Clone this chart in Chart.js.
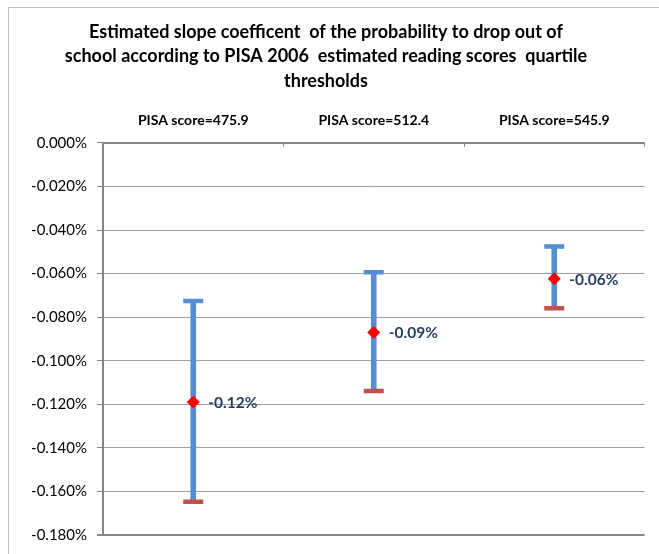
<!DOCTYPE html>
<html>
<head>
<meta charset="utf-8">
<script src="https://cdn.jsdelivr.net/npm/chart.js@4/dist/chart.umd.min.js"></script>
<style>
  html, body { margin: 0; padding: 0; background: #fff; overflow: hidden; width: 659px; height: 554px; }
  #frame { position: absolute; left: 8px; top: 7px; width: 700px; height: 600px; border: 1px solid #bfbfbf; box-sizing: border-box; }
  #c { position: absolute; left: 0; top: 0; }
</style>
</head>
<body>
<div id="frame"></div>
<canvas id="c" width="659" height="554"></canvas>
<script>
// ---- data (in percent units) ----
const titleLines = [
  'Estimated slope coefficent  of the probability to drop out of',
  'school according to PISA 2006  estimated reading scores  quartile',
  'thresholds'
];
const categories = ['PISA score=475.9', 'PISA score=512.4', 'PISA score=545.9'];
const estimates = [-0.119, -0.087, -0.0624];
const upperBounds = [-0.0726, -0.0594, -0.0476];
const lowerBounds = [-0.1647, -0.1139, -0.0759];
const valueLabels = ['-0.12%', '-0.09%', '-0.06%'];
const yMin = -0.18, yMax = 0, yStep = 0.02;

const FONT = 'Lato, "Open Sans", sans-serif';
const AXIS = '#868686';
const GRID = '#a0a0a0';
const BLUE = '#558ED5';
const RED = '#C0504D';

const valueLabelPlugin = {
  id: 'valueLabels',
  afterDatasetsDraw(chart) {
    const meta = chart.getDatasetMeta(0);
    const ctx = chart.ctx;
    ctx.save();
    ctx.font = 'bold 15.5px ' + FONT;
    ctx.fillStyle = '#243F60';
    ctx.textAlign = 'left';
    ctx.textBaseline = 'middle';
    meta.data.forEach((pt, i) => {
      ctx.fillText(valueLabels[i], pt.x + 15, pt.y + 1);
    });
    ctx.restore();
  }
};

new Chart(document.getElementById('c'), {
  type: 'bar',
  data: {
    labels: categories,
    datasets: [
      {
        type: 'line',
        label: 'Estimate',
        data: estimates,
        showLine: false,
        pointStyle: 'rectRot',
        pointRadius: 6.5,
        backgroundColor: '#FF0000',
        borderColor: '#FF0000',
        borderWidth: 0,
        order: 0
      },
      {
        type: 'line',
        label: 'Upper',
        data: upperBounds,
        showLine: false,
        pointStyle: 'line',
        pointRadius: 10,
        borderColor: BLUE,
        borderWidth: 4.5,
        order: 1
      },
      {
        type: 'line',
        label: 'Lower',
        data: lowerBounds,
        showLine: false,
        pointStyle: 'line',
        pointRadius: 10,
        borderColor: RED,
        borderWidth: 4.5,
        order: 1
      },
      {
        type: 'bar',
        label: 'Range',
        data: categories.map((_, i) => [lowerBounds[i], upperBounds[i]]),
        backgroundColor: BLUE,
        borderWidth: 0,
        barThickness: 5,
        order: 2
      }
    ]
  },
  options: {
    responsive: false,
    devicePixelRatio: 1,
    animation: false,
    layout: { padding: { left: 0, right: 7, top: 0, bottom: 17 } },
    plugins: {
      legend: { display: false },
      tooltip: { enabled: false },
      title: {
        display: true,
        text: titleLines,
        color: '#000',
        font: { family: FONT, size: 18, weight: 'bold', lineHeight: 1.35 },
        padding: { top: 20, bottom: 0 }
      }
    },
    scales: {
      x: {
        position: 'top',
        offset: true,
        grid: {
          offset: true,
          drawOnChartArea: false,
          drawTicks: true,
          tickLength: -4,
          color: AXIS,
          lineWidth: 1
        },
        border: { color: AXIS, width: 2 },
        ticks: {
          color: '#000',
          padding: 18,
          maxRotation: 0,
          font: { family: FONT, size: 14, weight: 'bold' }
        },
        afterFit(scale) { scale.height = 50; }
      },
      y: {
        min: yMin,
        max: yMax,
        grid: {
          color: (c) => (c.tick && Math.abs(c.tick.value - yMin) < 1e-9) ? AXIS : GRID,
          lineWidth: (c) => (c.tick && Math.abs(c.tick.value - yMin) < 1e-9) ? 2 : 1,
          tickColor: AXIS,
          tickLength: 6,
          drawTicks: true
        },
        border: { color: AXIS, width: 2 },
        ticks: {
          stepSize: yStep,
          padding: 10,
          color: '#000',
          font: { family: FONT, size: 15 },
          callback: (v) => {
            const s = Math.abs(v) < 1e-9 ? 0 : v;
            return s.toFixed(3) + '%';
          }
        },
        afterFit(scale) { scale.width = 103; }
      }
    }
  },
  plugins: [valueLabelPlugin]
});
</script>
</body>
</html>
